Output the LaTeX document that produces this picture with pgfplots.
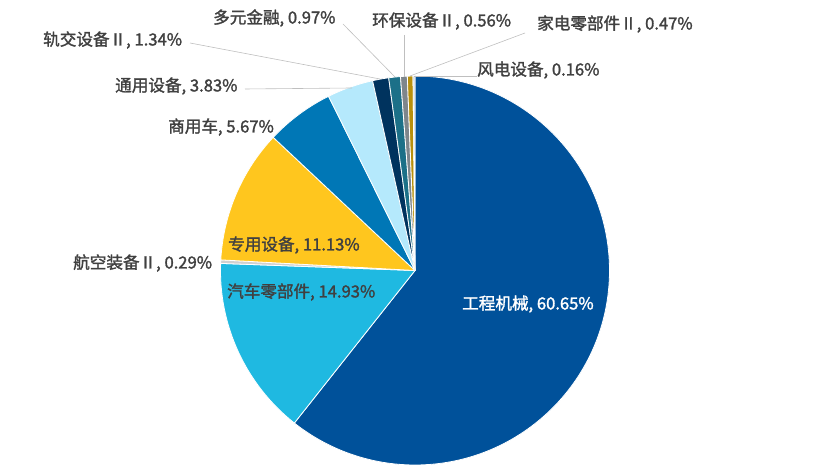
\documentclass[border=0pt]{standalone}
\usepackage{fontspec}
\setmainfont{Noto Sans CJK SC}[AutoFakeBold=1.6]
\usepackage{pgfplots}
\pgfplotsset{compat=1.18}

\definecolor{c1}{HTML}{00519A}
\definecolor{c2}{HTML}{1FB9E1}
\definecolor{c3}{HTML}{D0D0D0}
\definecolor{c4}{HTML}{FFC61E}
\definecolor{c5}{HTML}{0077B6}
\definecolor{c6}{HTML}{B5E9FC}
\definecolor{c7}{HTML}{00335E}
\definecolor{c8}{HTML}{1C7088}
\definecolor{c9}{HTML}{7E868C}
\definecolor{c10}{HTML}{B8900C}
\definecolor{c11}{HTML}{C9D5E2}
\definecolor{lbl}{HTML}{404040}
\definecolor{ldr}{HTML}{BFBFBF}

\def\startangle{90}
\newcommand\slice[2]{%
  \pgfmathsetmacro\endangle{\startangle-3.6*#1}%
  \edef\temp{\noexpand\fill[#2, draw=white, line width=0.8pt, line join=round]
    (axis cs:415,197.5) -- ++(\startangle:194.5pt)
    arc[start angle=\startangle, end angle=\endangle, radius=194.5pt] -- cycle;}%
  \temp
  \global\let\startangle\endangle
}

\begin{document}
\begin{tikzpicture}[lab/.style={font=\fontsize{16.6}{19}\selectfont\bfseries, text=lbl, inner sep=0pt, anchor=west}]
\useasboundingbox (0,0) rectangle (831pt,468pt);
\begin{axis}[x=1pt,y=1pt,xmin=0,xmax=831,ymin=0,ymax=468,
  hide axis, clip=false, at={(0,0)}, anchor=south west]
\slice{60.65}{c1}
\slice{14.93}{c2}
\slice{0.29}{c3}
\slice{11.13}{c4}
\slice{5.67}{c5}
\slice{3.83}{c6}
\slice{1.34}{c7}
\slice{0.97}{c8}
\slice{0.56}{c9}
\slice{0.47}{c10}
\slice{0.16}{c11}
% leader lines
\draw[ldr, line width=0.6pt] (axis cs:343,444) -- (axis cs:395,391);
\draw[ldr, line width=0.6pt] (axis cs:190,425) -- (axis cs:380,389);
\draw[ldr, line width=0.6pt] (axis cs:245,379) -- (axis cs:352,380);
\draw[ldr, line width=0.6pt] (axis cs:404,433) -- (axis cs:404,391);
\draw[ldr, line width=0.6pt] (axis cs:525,435) -- (axis cs:410,392);
\draw[ldr, line width=0.6pt] (axis cs:477,392) -- (axis cs:414,392);
% labels
\node[lab] at (axis cs:213,450) {多元金融, 0.97\%};
\node[lab] at (axis cs:372,447) {环保设备Ⅱ, 0.56\%};
\node[lab] at (axis cs:537,444) {家电零部件Ⅱ, 0.47\%};
\node[lab] at (axis cs:477,398) {风电设备, 0.16\%};
\node[lab] at (axis cs:43,428) {轨交设备Ⅱ, 1.34\%};
\node[lab] at (axis cs:115,382) {通用设备, 3.83\%};
\node[lab] at (axis cs:168,341) {商用车, 5.67\%};
\node[lab] at (axis cs:228,223) {专用设备, 11.13\%};
\node[lab] at (axis cs:73,205) {航空装备Ⅱ, 0.29\%};
\node[lab] at (axis cs:227,176) {汽车零部件, 14.93\%};
\node[lab, text=white] at (axis cs:462,164) {工程机械, 60.65\%};
\end{axis}
\end{tikzpicture}
\end{document}
